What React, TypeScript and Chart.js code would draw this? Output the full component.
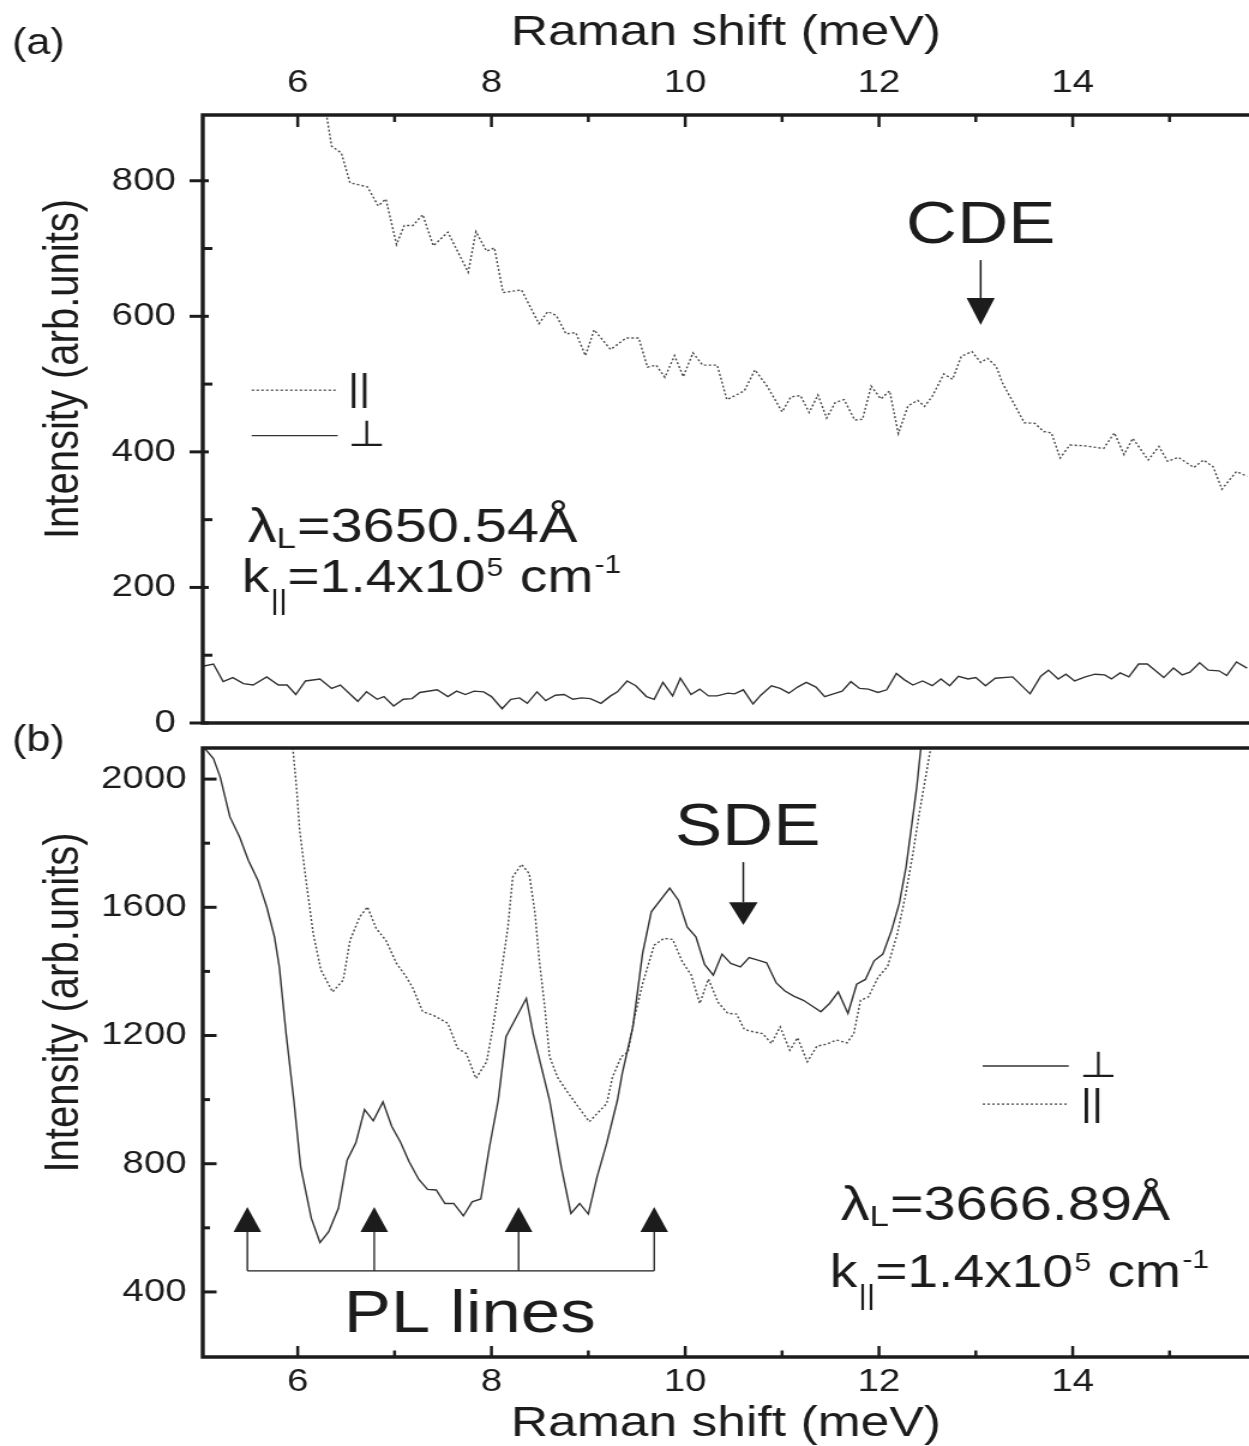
import React, { useEffect, useRef } from "react";
import { Chart, registerables } from "chart.js";

Chart.register(...registerables);

// ---------------- data ----------------
// Panel (a): parallel polarization (dotted)
const aParX = [6.26, 6.30, 6.35, 6.45, 6.54, 6.72, 6.83, 6.91, 7.02, 7.10, 7.19, 7.29, 7.40, 7.55, 7.76, 7.84, 7.95, 8.03, 8.12, 8.31, 8.49, 8.58, 8.67, 8.77, 8.87, 8.97, 9.06, 9.23, 9.39, 9.52, 9.61, 9.70, 9.79, 9.89, 9.98, 10.08, 10.18, 10.33, 10.43, 10.61, 10.72, 10.85, 11.00, 11.09, 11.19, 11.28, 11.37, 11.46, 11.55, 11.64, 11.75, 11.83, 11.92, 12.02, 12.11, 12.20, 12.30, 12.40, 12.47, 12.55, 12.67, 12.76, 12.85, 12.96, 13.05, 13.12, 13.21, 13.28, 13.39, 13.50, 13.61, 13.70, 13.78, 13.87, 13.97, 14.12, 14.32, 14.43, 14.53, 14.62, 14.78, 14.89, 14.98, 15.09, 15.25, 15.35, 15.45, 15.54, 15.69, 15.80];
const aParY = [940, 895, 851, 841, 797, 791, 763, 773, 706, 734, 734, 750, 704, 724, 665, 725, 696, 701, 635, 639, 589, 607, 601, 574, 576, 542, 580, 551, 568, 568, 525, 528, 510, 542, 511, 546, 528, 528, 477, 490, 521, 496, 459, 481, 483, 458, 484, 450, 473, 477, 447, 448, 497, 478, 490, 427, 468, 476, 467, 482, 515, 507, 541, 548, 532, 538, 526, 500, 472, 443, 442, 430, 428, 391, 410, 409, 405, 428, 396, 420, 388, 408, 386, 392, 377, 388, 378, 345, 371, 364];

// Panel (a): perpendicular polarization (solid)
const aPerpX = [5.00, 5.13, 5.23, 5.33, 5.44, 5.54, 5.68, 5.80, 5.89, 5.98, 6.08, 6.23, 6.35, 6.44, 6.62, 6.71, 6.82, 6.89, 6.99, 7.09, 7.18, 7.26, 7.44, 7.55, 7.64, 7.73, 7.82, 7.92, 8.00, 8.11, 8.20, 8.29, 8.37, 8.47, 8.56, 8.66, 8.75, 8.84, 8.93, 9.02, 9.13, 9.23, 9.30, 9.40, 9.49, 9.60, 9.68, 9.77, 9.87, 9.95, 10.06, 10.15, 10.24, 10.33, 10.44, 10.51, 10.60, 10.70, 10.78, 10.89, 10.98, 11.07, 11.16, 11.25, 11.35, 11.44, 11.53, 11.62, 11.71, 11.80, 11.89, 11.99, 12.08, 12.18, 12.26, 12.35, 12.45, 12.55, 12.64, 12.73, 12.82, 12.92, 13.00, 13.10, 13.20, 13.38, 13.56, 13.67, 13.75, 13.85, 13.93, 14.02, 14.13, 14.23, 14.33, 14.40, 14.49, 14.58, 14.68, 14.77, 14.94, 15.04, 15.13, 15.21, 15.31, 15.40, 15.51, 15.59, 15.69, 15.80];
const aPerpY = [83, 87, 61, 67, 58, 56, 68, 56, 56, 42, 62, 65, 51, 56, 32, 46, 35, 39, 25, 35, 36, 45, 49, 39, 47, 42, 47, 46, 39, 21, 35, 37, 29, 46, 33, 41, 42, 35, 37, 36, 29, 40, 46, 62, 55, 39, 35, 60, 40, 66, 42, 50, 40, 40, 44, 43, 49, 28, 41, 55, 51, 44, 53, 60, 53, 39, 43, 47, 61, 51, 50, 45, 49, 73, 64, 56, 62, 55, 65, 55, 69, 65, 67, 55, 66, 68, 43, 69, 78, 65, 72, 62, 68, 72, 71, 65, 74, 68, 87, 87, 67, 81, 71, 75, 89, 78, 77, 70, 90, 81];

// Panel (b): perpendicular polarization (solid)
const bPerpX = [5.00, 5.13, 5.20, 5.30, 5.40, 5.49, 5.59, 5.68, 5.76, 5.81, 5.88, 5.96, 6.03, 6.14, 6.23, 6.32, 6.42, 6.51, 6.60, 6.69, 6.78, 6.88, 6.97, 7.06, 7.15, 7.25, 7.34, 7.43, 7.52, 7.61, 7.71, 7.80, 7.89, 7.98, 8.07, 8.15, 8.36, 8.43, 8.60, 8.72, 8.82, 8.91, 9.00, 9.09, 9.19, 9.30, 9.35, 9.46, 9.56, 9.65, 9.84, 9.93, 10.02, 10.11, 10.20, 10.29, 10.38, 10.47, 10.57, 10.66, 10.75, 10.84, 10.94, 11.03, 11.12, 11.22, 11.31, 11.40, 11.49, 11.58, 11.68, 11.77, 11.86, 11.95, 12.04, 12.13, 12.21, 12.28, 12.34, 12.39, 12.43, 12.46];
const bPerpY = [2110, 2064, 2006, 1882, 1819, 1747, 1684, 1601, 1508, 1414, 1206, 998, 791, 630, 554, 588, 661, 811, 865, 969, 934, 993, 917, 868, 806, 751, 720, 718, 676, 676, 637, 681, 690, 853, 998, 1196, 1316, 1206, 998, 791, 645, 676, 643, 759, 864, 998, 1082, 1227, 1456, 1586, 1660, 1622, 1539, 1508, 1422, 1388, 1454, 1425, 1414, 1443, 1435, 1427, 1364, 1339, 1323, 1310, 1292, 1274, 1300, 1336, 1269, 1360, 1375, 1433, 1454, 1528, 1612, 1726, 1861, 1975, 2090, 2160];

// Panel (b): parallel polarization (dotted)
const bParX = [5.93, 5.95, 5.99, 6.02, 6.09, 6.16, 6.24, 6.36, 6.47, 6.54, 6.64, 6.72, 6.81, 6.91, 7.02, 7.12, 7.19, 7.29, 7.40, 7.55, 7.65, 7.74, 7.84, 7.95, 8.01, 8.10, 8.17, 8.22, 8.31, 8.39, 8.45, 8.49, 8.55, 8.60, 8.68, 8.77, 8.87, 9.01, 9.19, 9.25, 9.34, 9.41, 9.47, 9.56, 9.68, 9.78, 9.87, 9.97, 10.06, 10.15, 10.24, 10.34, 10.44, 10.53, 10.61, 10.71, 10.80, 10.89, 10.98, 11.08, 11.16, 11.26, 11.36, 11.46, 11.56, 11.67, 11.74, 11.81, 11.89, 11.99, 12.09, 12.19, 12.27, 12.35, 12.41, 12.47, 12.53, 12.56];
const bParY = [2160, 2095, 1965, 1840, 1674, 1518, 1404, 1336, 1373, 1497, 1570, 1601, 1534, 1497, 1425, 1383, 1347, 1274, 1263, 1238, 1160, 1144, 1066, 1118, 1217, 1393, 1539, 1695, 1734, 1705, 1580, 1445, 1289, 1134, 1071, 1030, 988, 931, 988, 1071, 1134, 1149, 1248, 1362, 1482, 1503, 1500, 1430, 1390, 1300, 1376, 1303, 1269, 1267, 1219, 1211, 1206, 1175, 1227, 1154, 1193, 1118, 1167, 1173, 1186, 1177, 1206, 1310, 1320, 1381, 1416, 1518, 1632, 1767, 1882, 1986, 2090, 2160];

// tick labels
const xTicks = [6, 8, 10, 12, 14];
const xMinor = [7, 9, 11, 13, 15];
const aYTicks = [0, 200, 400, 600, 800];
const aYMinor = [100, 300, 500, 700];
const bYTicks = [400, 800, 1200, 1600, 2000];
const bYMinor = [600, 1000, 1400, 1800];

// annotation anchors (data units)
const plLines = [5.48, 6.79, 8.28, 9.68];

// ---------------- layout / style ----------------
const S = 1.2; // horizontal stretch of the original figure
const PAGE_W = 1249;
const CW = Math.round(PAGE_W / S);
const FONT = "'Liberation Sans', Arial, Helvetica, sans-serif";
const INK = "#1c1c1c";
const Y_TITLE = "         Intensity (arb.units)";

function txt(ctx: CanvasRenderingContext2D, s: string, x: number, y: number, size: number, align: CanvasTextAlign = "left", family = FONT) {
  ctx.font = `${size}px ${family}`;
  ctx.textAlign = align;
  ctx.textBaseline = "alphabetic";
  ctx.fillText(s, x, y);
  return ctx.measureText(s).width;
}

function lambdaLine(ctx: CanvasRenderingContext2D, x: number, y: number, value: string) {
  let cx = x;
  cx += txt(ctx, "λ", cx, y, 48);
  cx += txt(ctx, "L", cx, y + 6, 29);
  txt(ctx, "=" + value, cx + 1, y, 48);
}

function kLine(ctx: CanvasRenderingContext2D, x: number, y: number) {
  let cx = x;
  cx += txt(ctx, "k", cx, y, 46);
  cx += txt(ctx, "||", cx + 1, y + 17, 27) + 1;
  cx += txt(ctx, "=1.4x10", cx, y, 46);
  cx += txt(ctx, "5", cx + 1, y - 16, 25) + 2;
  cx += txt(ctx, " cm", cx, y, 46);
  txt(ctx, "-1", cx + 1, y - 19, 25);
}

function arrow(ctx: CanvasRenderingContext2D, x: number, yStart: number, yBase: number, yTip: number, hw: number) {
  ctx.lineWidth = 1.5;
  ctx.beginPath();
  ctx.moveTo(x, yStart);
  ctx.lineTo(x, yBase);
  ctx.stroke();
  ctx.beginPath();
  ctx.moveTo(x - hw, yBase);
  ctx.lineTo(x + hw, yBase);
  ctx.lineTo(x, yTip);
  ctx.closePath();
  ctx.fill();
}

function legendLine(ctx: CanvasRenderingContext2D, x0: number, x1: number, y: number, dotted: boolean) {
  ctx.save();
  ctx.lineWidth = dotted ? 1.3 : 1.4;
  ctx.strokeStyle = dotted ? "#444" : "#333";
  ctx.setLineDash(dotted ? [2, 2] : []);
  ctx.beginPath();
  ctx.moveTo(x0, y);
  ctx.lineTo(x1, y);
  ctx.stroke();
  ctx.restore();
}

const decoPlugin = {
  id: "deco",
  afterDraw(chart: any, _args: any, opts: any) {
    const ctx: CanvasRenderingContext2D = chart.ctx;
    const { left, right, top, bottom } = chart.chartArea;
    const xs = chart.scales.x;
    const ys = chart.scales.y;
    const panel = opts.panel;
    ctx.save();
    ctx.strokeStyle = INK;
    ctx.fillStyle = INK;

    // frame
    ctx.lineWidth = 3.4;
    ctx.beginPath();
    ctx.moveTo(right + 2, top);
    ctx.lineTo(left, top);
    ctx.lineTo(left, bottom);
    ctx.lineTo(right + 2, bottom);
    ctx.stroke();

    // x ticks
    const xEdge = panel === "a" ? top : bottom;
    const dir = panel === "a" ? 1 : -1;
    ctx.lineWidth = 2.5;
    const drawX = (v: number, len: number) => {
      const px = xs.getPixelForValue(v);
      if (px < left || px > right) return;
      ctx.beginPath();
      ctx.moveTo(px, xEdge);
      ctx.lineTo(px, xEdge + dir * len);
      ctx.stroke();
    };
    xTicks.forEach((v) => drawX(v, panel === "a" ? 12 : 11));
    xMinor.forEach((v) => drawX(v, panel === "a" ? 7 : 6.5));

    // y ticks
    ctx.lineWidth = 3;
    const drawY = (v: number, inLen: number, outLen: number) => {
      const py = ys.getPixelForValue(v);
      ctx.beginPath();
      ctx.moveTo(left - outLen, py);
      ctx.lineTo(left + inLen, py);
      ctx.stroke();
    };
    if (panel === "a") {
      aYTicks.forEach((v) => drawY(v, 5, 11));
      aYMinor.forEach((v) => drawY(v, 8, 0));
    } else {
      bYTicks.forEach((v) => drawY(v, 11.5, 0));
      bYMinor.forEach((v) => drawY(v, 6, 0));
    }

    const X = (v: number) => xs.getPixelForValue(v);
    const Y = (v: number) => ys.getPixelForValue(v);

    if (panel === "a") {
      txt(ctx, "(a)", 10, 54, 36);
      txt(ctx, "CDE", X(13.05), Y(708), 59, "center");
      arrow(ctx, X(13.05), Y(683), Y(627), Y(587), 11.7);
      // legend
      legendLine(ctx, X(5.525), X(6.413), Y(491), true);
      txt(ctx, "||", X(6.413) + 8.5, Y(491) + 10, 36);
      legendLine(ctx, X(5.525), X(6.413), Y(424), false);
      txt(ctx, "⊥", X(6.413) + 8.5, Y(424) + 10, 36, "left", "'DejaVu Sans', sans-serif");
      lambdaLine(ctx, X(5.484), Y(267), "3650.54Å");
      kLine(ctx, X(5.422), Y(193));
    } else {
      txt(ctx, "(b)", 10, 39, 36);
      txt(ctx, "SDE", X(10.645), Y(1794), 59, "center");
      arrow(ctx, X(10.6), Y(1741), Y(1616), Y(1545), 11.9);
      // legend
      legendLine(ctx, X(13.071), X(13.959), Y(1105), false);
      txt(ctx, "⊥", X(13.959) + 9, Y(1105) + 11, 36, "left", "'DejaVu Sans', sans-serif");
      legendLine(ctx, X(13.071), X(13.959), Y(986), true);
      txt(ctx, "||", X(13.959) + 10, Y(986) + 11, 36);
      lambdaLine(ctx, X(11.605), Y(625), "3666.89Å");
      kLine(ctx, X(11.49), Y(416));
      // PL lines
      ctx.lineWidth = 1.3;
      ctx.beginPath();
      ctx.moveTo(X(plLines[0]), Y(466));
      ctx.lineTo(X(plLines[plLines.length - 1]), Y(466));
      ctx.stroke();
      plLines.forEach((v) => {
        const x = X(v);
        ctx.lineWidth = 1.3;
        ctx.beginPath();
        ctx.moveTo(x, Y(466));
        ctx.lineTo(x, Y(587));
        ctx.stroke();
        ctx.beginPath();
        ctx.moveTo(x - 11.5, Y(587));
        ctx.lineTo(x + 11.5, Y(587));
        ctx.lineTo(x, Y(665));
        ctx.closePath();
        ctx.fill();
      });
      txt(ctx, "PL lines", X(7.775), Y(275), 59, "center");
    }
    ctx.restore();
  },
};

function series(xs: number[], ys: number[], dotted: boolean) {
  return {
    data: xs.map((x, i) => ({ x, y: ys[i] })),
    borderColor: dotted ? "#4a4a4a" : "#333",
    borderWidth: 1.4,
    borderDash: dotted ? [2, 2] : [],
    pointRadius: 0,
    fill: false,
    tension: 0,
  };
}

function makeConfig(panel: "a" | "b"): any {
  const isA = panel === "a";
  return {
    type: "line",
    data: {
      datasets: isA
        ? [series(aParX, aParY, true), series(aPerpX, aPerpY, false)]
        : [series(bPerpX, bPerpY, false), series(bParX, bParY, true)],
    },
    plugins: [decoPlugin],
    options: {
      responsive: false,
      animation: false,
      devicePixelRatio: 1,
      layout: { padding: isA ? { top: 0, bottom: 17, left: 0, right: 0 } : { top: 36, bottom: 0, left: 0, right: 0 } },
      plugins: {
        legend: { display: false },
        tooltip: { enabled: false },
        deco: { panel },
      },
      scales: {
        x: {
          type: "linear",
          position: isA ? "top" : "bottom",
          min: 5.02,
          max: 15.82,
          afterBuildTicks: (s: any) => {
            s.ticks = xTicks.map((v) => ({ value: v }));
          },
          afterFit: (s: any) => {
            s.height = isA ? 115 : 89;
            s.paddingLeft = 0;
            s.paddingRight = 0;
          },
          grid: { display: false, drawTicks: false },
          border: { display: false },
          ticks: {
            autoSkip: false,
            maxRotation: 0,
            padding: isA ? 15.5 : 9,
            color: INK,
            font: { family: FONT, size: 32, lineHeight: 1 },
            callback: (v: any) => String(v),
          },
          title: {
            display: true,
            text: "Raman shift (meV)",
            color: INK,
            font: { family: FONT, size: 43, lineHeight: 1 },
            padding: isA ? { top: 12, bottom: 0 } : { top: 0, bottom: 0 },
          },
        },
        y: {
          type: "linear",
          min: isA ? 0 : 197,
          max: isA ? 897 : 2097,
          afterBuildTicks: (s: any) => {
            s.ticks = (isA ? aYTicks : bYTicks).map((v) => ({ value: v }));
          },
          afterFit: (s: any) => {
            s.width = 169;
            s.paddingTop = 0;
            s.paddingBottom = 0;
          },
          grid: { display: false, drawTicks: false },
          border: { display: false },
          ticks: {
            padding: isA ? 22.5 : 13.5,
            color: INK,
            font: { family: FONT, size: 32, lineHeight: 1 },
            callback: (v: any) => String(v),
          },
          title: {
            display: true,
            text: Y_TITLE,
            color: INK,
            font: { family: FONT, size: 40, lineHeight: 1 },
            padding: { top: 34, bottom: 0 },
          },
        },
      },
    },
  };
}

export default function App() {
  const refA = useRef<HTMLCanvasElement>(null);
  const refB = useRef<HTMLCanvasElement>(null);
  useEffect(() => {
    const ca = new Chart(refA.current as HTMLCanvasElement, makeConfig("a"));
    const cb = new Chart(refB.current as HTMLCanvasElement, makeConfig("b"));
    return () => {
      ca.destroy();
      cb.destroy();
    };
  }, []);
  return (
    <div style={{ position: "absolute", left: 0, top: 0, width: PAGE_W, height: 1446, background: "#fff", overflow: "hidden" }}>
      <canvas
        ref={refA}
        width={CW}
        height={740}
        style={{ position: "absolute", left: 0, top: 0, width: `${PAGE_W}px`, height: "740px" }}
      />
      <canvas
        ref={refB}
        width={CW}
        height={734}
        style={{ position: "absolute", left: 0, top: "712px", width: `${PAGE_W}px`, height: "734px" }}
      />
    </div>
  );
}
